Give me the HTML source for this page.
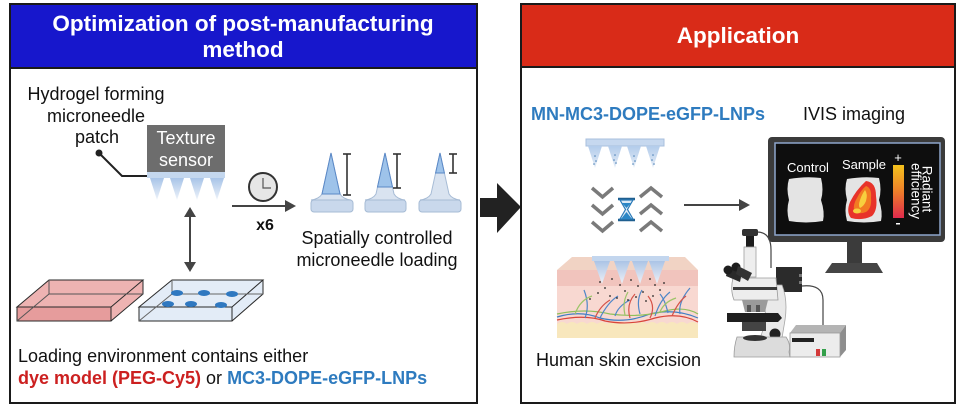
<!DOCTYPE html>
<html>
<head>
<meta charset="utf-8">
<style>
html,body{margin:0;padding:0;background:#fff;}
svg{display:block;}
text{font-family:"Liberation Sans",Arial,sans-serif;}
</style>
</head>
<body>
<svg width="960" height="406" viewBox="0 0 960 406" xmlns="http://www.w3.org/2000/svg">
<defs>
  <linearGradient id="ndl" x1="0" y1="0" x2="0" y2="1">
    <stop offset="0" stop-color="#b3cceb"/>
    <stop offset="1" stop-color="#e4ecf6"/>
  </linearGradient>
  <linearGradient id="ndl2" x1="0" y1="0" x2="0" y2="1">
    <stop offset="0" stop-color="#c9dbf0"/>
    <stop offset="1" stop-color="#9dbde3"/>
  </linearGradient>
  <linearGradient id="ndl3" x1="0" y1="0" x2="0" y2="1">
    <stop offset="0" stop-color="#a8c4e8"/>
    <stop offset="1" stop-color="#eef3fa"/>
  </linearGradient>
  <linearGradient id="cbar" x1="0" y1="0" x2="0" y2="1">
    <stop offset="0" stop-color="#f4c21c"/>
    <stop offset="0.5" stop-color="#ee7e2a"/>
    <stop offset="1" stop-color="#df2a4c"/>
  </linearGradient>
</defs>

<!-- LEFT PANEL -->
<rect x="10" y="4" width="467" height="64" fill="#1717cc"/>
<line x1="10" y1="68" x2="477" y2="68" stroke="#1a1a1a" stroke-width="2"/>
<rect x="10" y="4" width="467" height="399" fill="none" stroke="#1a1a1a" stroke-width="2"/>
<text x="243" y="31" font-size="22.5" font-weight="bold" fill="#fff" text-anchor="middle">Optimization of post-manufacturing</text>
<text x="243" y="57" font-size="22.5" font-weight="bold" fill="#fff" text-anchor="middle">method</text>

<text x="96" y="100" font-size="18" fill="#111" text-anchor="middle">Hydrogel forming</text>
<text x="96" y="122" font-size="18" fill="#111" text-anchor="middle">microneedle</text>
<text x="97" y="143" font-size="18" fill="#111" text-anchor="middle">patch</text>

<circle cx="99" cy="153" r="3.5" fill="#222"/>
<polyline points="99,153 122,176 147,176" fill="none" stroke="#222" stroke-width="2"/>

<rect x="147" y="125" width="78" height="47" fill="#6d6d6d"/>
<text x="186" y="144" font-size="18" fill="#fff" text-anchor="middle">Texture</text>
<text x="186" y="166" font-size="18" fill="#fff" text-anchor="middle">sensor</text>
<rect x="147" y="172" width="78" height="6" fill="#c4d7ee"/>
<g fill="url(#ndl3)">
  <polygon points="150,178 164,178 157,200"/>
  <polygon points="170,178 184,178 177,200"/>
  <polygon points="190,178 204,178 197,200"/>
  <polygon points="210,178 224,178 217,200"/>
</g>

<!-- clock -->
<circle cx="263" cy="187" r="14" fill="#e6e6e6" stroke="#333" stroke-width="2"/>
<polyline points="263,178 263,188 271,188" fill="none" stroke="#555" stroke-width="1.2"/>
<!-- arrow -->
<line x1="232" y1="206" x2="288" y2="206" stroke="#444" stroke-width="2"/>
<polygon points="285,200 296,206 285,212" fill="#444"/>
<text x="265" y="230" font-size="16" font-weight="bold" fill="#111" text-anchor="middle">x6</text>

<!-- three needles -->
<g stroke="#a6bbd5" stroke-width="1">
  <path d="M331,153 L340,194 Q343,199 351,200 L311,200 Q319,199 322,194 Z" fill="#d9e3f0"/>
  <path d="M385,153 L394,194 Q397,199 405,200 L365,200 Q373,199 376,194 Z" fill="#d9e3f0"/>
  <path d="M440,153 L449,194 Q452,199 460,200 L420,200 Q428,199 431,194 Z" fill="#d9e3f0"/>
  <rect x="311" y="200" width="42" height="12" rx="3" fill="#c9d8ec"/>
  <rect x="365" y="200" width="41" height="12" rx="3" fill="#c9d8ec"/>
  <rect x="419" y="200" width="42" height="12" rx="3" fill="#c9d8ec"/>
</g>
<g fill="#9ec3ea" stroke="#5a88c6" stroke-width="1">
  <path d="M331,153 L340,194 L322,194 Z"/>
  <path d="M385,153 L392.5,187 L377.5,187 Z"/>
  <path d="M440,153 L444.4,173 L435.6,173 Z"/>
</g>
<g stroke="#333" stroke-width="1.6" fill="none">
  <line x1="347" y1="154" x2="347" y2="195"/><line x1="343" y1="154" x2="351" y2="154"/><line x1="343" y1="195" x2="351" y2="195"/>
  <line x1="397" y1="154" x2="397" y2="188"/><line x1="393" y1="154" x2="401" y2="154"/><line x1="393" y1="188" x2="401" y2="188"/>
  <line x1="453" y1="154" x2="453" y2="173"/><line x1="449" y1="154" x2="457" y2="154"/><line x1="449" y1="173" x2="457" y2="173"/>
</g>
<text x="377" y="244" font-size="18" fill="#111" text-anchor="middle">Spatially controlled</text>
<text x="377" y="266" font-size="18" fill="#111" text-anchor="middle">microneedle loading</text>

<!-- double arrow -->
<line x1="190" y1="212" x2="190" y2="266" stroke="#444" stroke-width="2"/>
<polygon points="184,217 190,207 196,217" fill="#444"/>
<polygon points="184,262 190,272 196,262" fill="#444"/>

<!-- red tray -->
<polygon points="17,307 49,280 143,280 143,294 111,321 17,321" fill="#eeb3b2"/>
<rect x="17" y="307" width="94" height="14" fill="#e69c9c"/>
<g fill="none" stroke="#2a2a2a" stroke-width="1">
  <polygon points="17,307 49,280 143,280 111,307"/>
  <rect x="17" y="307" width="94" height="14"/>
  <polyline points="111,321 143,294 143,280"/>
  <polyline points="49,280 49,294 143,294" stroke="#555"/>
  <line x1="17" y1="321" x2="49" y2="294" stroke="#555"/>
</g>
<!-- blue tray -->
<polygon points="139,307 172,280 263,280 263,294 232,321 139,321" fill="#e3ecf7"/>
<g fill="none" stroke="#2a2a2a" stroke-width="1">
  <polygon points="139,307 172,280 263,280 232,307"/>
  <rect x="139" y="307" width="93" height="14"/>
  <polyline points="232,321 263,294 263,280"/>
  <polyline points="172,280 172,294 263,294" stroke="#666"/>
  <line x1="139" y1="321" x2="172" y2="294" stroke="#666"/>
</g>
<g fill="#2f78c0">
  <ellipse cx="177" cy="293" rx="6" ry="3"/>
  <ellipse cx="204" cy="293" rx="6" ry="3"/>
  <ellipse cx="232" cy="294" rx="6" ry="3"/>
  <ellipse cx="168" cy="304" rx="6" ry="3"/>
  <ellipse cx="191" cy="304" rx="6" ry="3"/>
  <ellipse cx="221" cy="305" rx="6" ry="3"/>
</g>

<text x="18" y="362" font-size="18" fill="#111">Loading environment contains either</text>
<text x="18" y="384" font-size="18" fill="#111"><tspan font-weight="bold" fill="#cc2020">dye model (PEG-Cy5)</tspan> or <tspan font-weight="bold" fill="#2e7bbf">MC3-DOPE-eGFP-LNPs</tspan></text>

<!-- BIG ARROW -->
<polygon points="480,198 497,198 497,183 521,207 497,233 497,217 480,217" fill="#222"/>

<!-- RIGHT PANEL -->
<rect x="521" y="4" width="434" height="63" fill="#d92b18"/>
<line x1="521" y1="67" x2="955" y2="67" stroke="#1a1a1a" stroke-width="2"/>
<rect x="521" y="4" width="434" height="399" fill="none" stroke="#1a1a1a" stroke-width="2"/>
<text x="738" y="43" font-size="22.5" font-weight="bold" fill="#fff" text-anchor="middle">Application</text>

<text x="531" y="120" font-size="18" font-weight="bold" fill="#2e7bbf">MN-MC3-DOPE-eGFP-LNPs</text>
<text x="803" y="120" font-size="18" fill="#111">IVIS imaging</text>

<!-- patch top -->
<rect x="586" y="139" width="78" height="7" fill="#c6d8ef" stroke="#a8bfdc" stroke-width="1"/>
<g fill="url(#ndl)">
  <polygon points="588,146 602,146 595,168"/>
  <polygon points="608,146 622,146 615,168"/>
  <polygon points="627,146 641,146 634,168"/>
  <polygon points="646,146 660,146 653,168"/>
</g>
<g fill="#4a7fb5">
  <circle cx="595" cy="156" r="0.8"/><circle cx="596" cy="161" r="0.8"/><circle cx="594" cy="164" r="0.8"/>
  <circle cx="615" cy="155" r="0.8"/><circle cx="614" cy="160" r="0.8"/><circle cx="616" cy="163" r="0.8"/>
  <circle cx="634" cy="156" r="0.8"/><circle cx="635" cy="161" r="0.8"/><circle cx="633" cy="164" r="0.8"/>
  <circle cx="653" cy="155" r="0.8"/><circle cx="652" cy="160" r="0.8"/><circle cx="654" cy="164" r="0.8"/>
</g>

<!-- chevrons -->
<g fill="none" stroke="#7a7a7a" stroke-width="3.5">
  <polyline points="592,188 602.5,197 613,188"/>
  <polyline points="592,205 602.5,214 613,205"/>
  <polyline points="592,222 602.5,231 613,222"/>
  <polyline points="640,197 651,188 662,197"/>
  <polyline points="640,214 651,205 662,214"/>
  <polyline points="640,231 651,222 662,231"/>
</g>
<!-- hourglass -->
<line x1="618" y1="199" x2="635" y2="199" stroke="#1f5f8f" stroke-width="2.5"/>
<line x1="618" y1="220" x2="635" y2="220" stroke="#1f5f8f" stroke-width="2.5"/>
<path d="M620,200 L633,200 L627.5,209.5 L633,219 L620,219 L625.5,209.5 Z" fill="#dbe9f5" stroke="#2a7ab8" stroke-width="1.2"/>
<path d="M622,203 L631,203 L626.5,208 Z M626.5,212 L632,219 L621,219 Z" fill="#2a86c6"/>

<!-- arrow right panel -->
<line x1="684" y1="205" x2="741" y2="205" stroke="#444" stroke-width="2"/>
<polygon points="739,199 750,205 739,211" fill="#444"/>

<!-- skin -->
<polygon points="572,257 685,257 698,270 557,270" fill="#f1d3c4"/>
<rect x="557" y="270" width="141" height="16" fill="#f1c4bd"/>
<rect x="557" y="286" width="141" height="38" fill="#f8d8d1"/>
<path d="M557,324 Q562,320 567,324 Q572,320 577,324 Q582,320 587,324 Q592,320 597,324 Q602,320 607,324 Q612,320 617,324 Q622,320 627,324 Q632,320 637,324 Q642,320 647,324 Q652,320 657,324 Q662,320 667,324 Q672,320 677,324 Q682,320 687,324 Q692,320 698,324 L698,338 L557,338 Z" fill="#f8e7bd"/>
<g fill="none" stroke-width="1.2">
  <path d="M557,317 Q580,310 600,318 Q625,324 650,314 Q675,308 698,318" stroke="#3f7fc4"/>
  <path d="M557,320 Q585,314 605,321 Q630,326 655,318 Q680,312 698,322" stroke="#d8453a"/>
  <path d="M557,314 Q585,308 610,314 Q640,318 665,311 Q685,306 698,314" stroke="#8fbf5a"/>
  <path d="M585,318 Q590,305 584,290 M600,318 Q608,302 618,296 M640,314 Q636,300 642,290 M655,316 Q660,300 670,292 M680,314 Q678,302 690,288 M615,316 Q618,306 630,300 M668,313 Q665,300 660,294" stroke="#4f86c8"/>
  <path d="M595,318 Q600,306 610,300 M630,318 Q626,304 635,294 M672,316 Q678,302 686,296 M650,318 Q656,306 648,296" stroke="#d55248"/>
  <path d="M575,314 Q580,300 592,296 M625,315 Q622,302 628,292 M660,312 Q664,302 676,298" stroke="#9cc468"/>
</g>
<!-- patch in skin -->
<rect x="592" y="256" width="77" height="5" fill="#c3d6ee"/>
<g fill="url(#ndl3)" opacity="0.95">
  <polygon points="594,261 610,261 602,284"/>
  <polygon points="614,261 630,261 622,284"/>
  <polygon points="632,261 648,261 640,284"/>
  <polygon points="649,261 665,261 657,284"/>
</g>
<g fill="#222">
  <circle cx="600" cy="282" r="0.9"/><circle cx="605" cy="288" r="0.9"/><circle cx="598" cy="293" r="0.9"/><circle cx="610" cy="296" r="0.9"/>
  <circle cx="620" cy="285" r="0.9"/><circle cx="625" cy="291" r="0.9"/><circle cx="617" cy="298" r="0.9"/><circle cx="628" cy="300" r="0.9"/>
  <circle cx="638" cy="286" r="0.9"/><circle cx="643" cy="292" r="0.9"/><circle cx="636" cy="297" r="0.9"/><circle cx="646" cy="301" r="0.9"/>
  <circle cx="655" cy="285" r="0.9"/><circle cx="660" cy="290" r="0.9"/><circle cx="653" cy="296" r="0.9"/><circle cx="590" cy="299" r="0.9"/>
  <circle cx="612" cy="279" r="0.9"/><circle cx="631" cy="280" r="0.9"/><circle cx="650" cy="279" r="0.9"/><circle cx="664" cy="283" r="0.9"/>
</g>
<text x="536" y="366" font-size="18" fill="#111">Human skin excision</text>

<!-- monitor -->
<rect x="768" y="137" width="177" height="105" rx="4" fill="#3b3b3b"/>
<rect x="775" y="143" width="165" height="92" fill="#0e0e0e" stroke="#8ea6cc" stroke-width="1.5"/>
<rect x="847" y="242" width="15" height="21" fill="#3b3b3b"/>
<polygon points="832,263 877,263 883,273 825,273" fill="#454545"/>
<text x="808" y="172" font-size="13" fill="#fff" text-anchor="middle">Control</text>
<text x="864" y="169" font-size="13" fill="#fff" text-anchor="middle">Sample</text>
<path d="M789,179 Q806,176 821,178 Q824,190 821,200 Q825,212 823,221 Q806,224 789,221 Q786,210 789,200 Q786,188 789,179 Z" fill="#e4e4e4"/>
<path d="M847,179 Q864,176 879,178 Q882,190 879,200 Q883,212 881,221 Q864,224 847,221 Q844,210 847,200 Q844,188 847,179 Z" fill="#e4e4e4"/>
<path d="M866,181 Q876,182 876,196 Q878,210 872,216 Q862,221 851,218 Q846,212 850,202 Q856,190 866,181 Z" fill="#e8332a"/>
<path d="M866,186 Q872,188 871,198 Q872,208 866,212 Q858,215 854,211 Q853,204 857,198 Q861,190 866,186 Z" fill="#f27a22"/>
<path d="M865,190 Q868,194 866,201 Q864,206 860,208 Q858,206 860,200 Q862,194 865,190 Z" fill="#f7cf3e"/>
<ellipse cx="857" cy="211" rx="4" ry="2.5" fill="#f7cf3e"/>
<rect x="893" y="165" width="11" height="53" fill="url(#cbar)"/>
<text x="898" y="162" font-size="13" fill="#fff" text-anchor="middle">+</text>
<rect x="896" y="223" width="4" height="1.5" fill="#fff"/>
<text transform="translate(922.5,189) rotate(90)" font-size="13.5" fill="#fff" text-anchor="middle">Radiant</text>
<text transform="translate(911.5,191) rotate(90)" font-size="13.5" fill="#fff" text-anchor="middle">efficiency</text>

<!-- microscope -->
<path d="M757,232 Q771,232 771,250 L771,268" fill="none" stroke="#444" stroke-width="1.2"/>
<path d="M802,286 Q823,284 823,300 L823,326" fill="none" stroke="#444" stroke-width="1.2"/>
<rect x="776" y="267" width="26" height="25" fill="#2b2b2b"/>
<rect x="799" y="274" width="3" height="3" fill="#777"/><rect x="799" y="281" width="3" height="3" fill="#777"/>
<rect x="742" y="229" width="16" height="7" rx="2" fill="#333"/>
<rect x="746" y="236" width="8" height="11" fill="#1e1e1e"/>
<rect x="744" y="247" width="12" height="30" fill="#eeeeee" stroke="#a0a0a0" stroke-width="0.8"/>
<!-- arm -->
<path d="M762,285 L782,285 Q788,300 785,320 L782,338 L760,338 Q768,320 764,300 Z" fill="#e9e9e9" stroke="#a5a5a5" stroke-width="0.8"/>
<!-- head -->
<path d="M733,278 L776,278 L778,300 L734,300 Q730,290 733,278 Z" fill="#ededed" stroke="#9a9a9a" stroke-width="0.8"/>
<rect x="733" y="287" width="44" height="3" fill="#3a3a3a"/>
<!-- eyepieces -->
<path d="M728,266 L742,272 L740,282 L726,276 Z" fill="#2a2a2a"/>
<circle cx="728" cy="270" r="4.5" fill="#1e1e1e"/>
<circle cx="736" cy="267" r="4.5" fill="#1e1e1e"/>
<path d="M738,266 L752,273 L748,281 L736,274 Z" fill="#333"/>
<!-- objectives -->
<path d="M742,300 L768,300 L765,312 L745,312 Z" fill="#9a9a9a"/>
<rect x="747" y="305" width="4" height="7" fill="#555"/><rect x="756" y="305" width="4" height="7" fill="#555"/>
<!-- stage -->
<path d="M727,313 L778,313 L782,318 L778,322 L727,322 Z" fill="#1f1f1f"/>
<rect x="742" y="322" width="24" height="9" fill="#444"/>
<circle cx="775" cy="334" r="5.5" fill="#222"/>
<!-- base -->
<path d="M737,337 L786,337 Q791,344 789,352 L790,357 L734,357 Q734,346 737,337 Z" fill="#dcdcdc" stroke="#9b9b9b" stroke-width="0.8"/>
<ellipse cx="755" cy="338" rx="12" ry="3" fill="#333"/>
<!-- controller -->
<polygon points="790,333 796,325 846,325 840,333" fill="#b4b4b4"/>
<polygon points="840,333 846,325 846,350 840,357" fill="#8e8e8e"/>
<rect x="790" y="333" width="50" height="24" fill="#ececec" stroke="#9a9a9a" stroke-width="0.8"/>
<rect x="792" y="338" width="22" height="4" fill="#222"/>
<rect x="816" y="349" width="4" height="7" fill="#d33a3a"/>
<rect x="822" y="349" width="4" height="7" fill="#33a04a"/>
</svg>
</body>
</html>
